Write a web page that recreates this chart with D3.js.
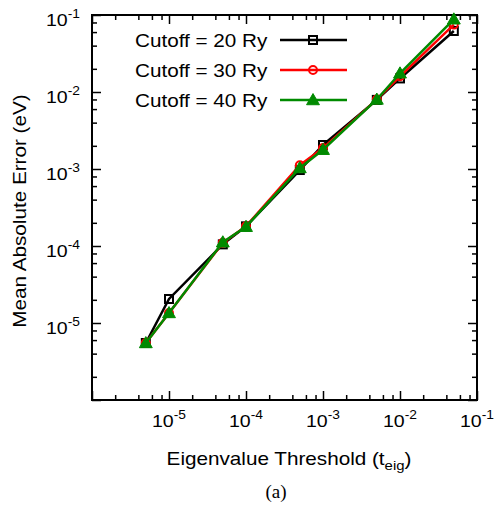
<!DOCTYPE html>
<html><head><meta charset="utf-8">
<script src="https://cdn.jsdelivr.net/npm/d3@7/dist/d3.min.js"></script>
<style>body{margin:0;background:#fff}svg{display:block}</style>
</head><body>
<script>
const thresholds = [5e-6, 1e-5, 5e-5, 1e-4, 5e-4, 1e-3, 5e-3, 1e-2, 5e-2];
const cutoff20 = [5.5e-6, 2.05e-5, 1.05e-4, 1.8e-4, 9.7e-4, 2.05e-3, 7.9e-3, 1.5e-2, 6.2e-2];
const cutoff30 = [5.5e-6, 1.35e-5, 1.1e-4, 1.8e-4, 1.12e-3, 1.87e-3, 8.0e-3, 1.6e-2, 7.5e-2];
const cutoff40 = [5.5e-6, 1.35e-5, 1.12e-4, 1.78e-4, 1.03e-3, 1.78e-3, 8.0e-3, 1.75e-2, 8.8e-2];
const seriesNames = ["Cutoff = 20 Ry", "Cutoff = 30 Ry", "Cutoff = 40 Ry"];
const xTickExps = [-5, -4, -3, -2, -1];
const yTickExps = [-1, -2, -3, -4, -5];

const W = 499, H = 506;
const L = 92, R = 477, T = 15, B = 400;
const svg = d3.select("body").append("svg").attr("width", W).attr("height", H);
const x = d3.scaleLog().domain([1e-6, 1e-1]).range([L, R]);
const y = d3.scaleLog().domain([1e-6, 1e-1]).range([B, T]);
const SX = 1.15;
const FONT = "'Liberation Sans', Arial, sans-serif";

const majors = d3.range(-6, 0).map(e => Math.pow(10, e));
const minors = [];
for (let e = -6; e < -1; e++) for (const m of [2, 4, 6, 8]) minors.push(m * Math.pow(10, e));

function drawAxis(axisGen, tx, ty, vals, size) {
  const g = svg.append("g").attr("transform", `translate(${tx},${ty})`)
    .call(axisGen.tickValues(vals).tickSize(size).tickFormat(""));
  g.select(".domain").remove();
  g.selectAll("line").attr("stroke", "#000").attr("stroke-width", 1.5);
}
[[9, majors], [5, minors]].forEach(([s, v]) => {
  drawAxis(d3.axisBottom(x), 0, B, v, -s);
  drawAxis(d3.axisTop(x), 0, T, v, -s);
  drawAxis(d3.axisLeft(y), L, 0, v, -s);
  drawAxis(d3.axisRight(y), R, 0, v, -s);
});
svg.append("rect").attr("x", L).attr("y", T).attr("width", R - L).attr("height", B - T)
  .attr("fill", "none").attr("stroke", "#000").attr("stroke-width", 2);

function powLabel(px, py, e, anchor) {
  const t = svg.append("text").attr("transform", `translate(${px},${py}) scale(${SX},1)`)
    .attr("text-anchor", anchor).attr("font-family", FONT).attr("font-size", 17).attr("fill", "#000");
  t.append("tspan").text("10");
  t.append("tspan").attr("font-size", 12).attr("dy", -8).text(String(e));
}
xTickExps.forEach(e => powLabel(x(Math.pow(10, e)), 427, e, "middle"));
yTickExps.forEach(e => powLabel(80, y(Math.pow(10, e)) + 11, e, "end"));

// axis titles
const xt = svg.append("text").attr("transform", `translate(289,465) scale(${SX},1)`)
  .attr("text-anchor", "middle").attr("font-family", FONT).attr("font-size", 18);
xt.append("tspan").text("Eigenvalue Threshold (t");
xt.append("tspan").attr("font-size", 13).attr("dy", 5).text("eig");
xt.append("tspan").attr("dy", -5).text(")");
svg.append("text").attr("transform", `translate(26,211) rotate(-90) scale(${SX},1)`)
  .attr("text-anchor", "middle").attr("font-family", FONT).attr("font-size", 18)
  .text("Mean Absolute Error (eV)");
svg.append("text").attr("x", 276).attr("y", 498).attr("text-anchor", "middle")
  .attr("font-family", "'Liberation Serif', 'Times New Roman', serif").attr("font-size", 19).text("(a)");

const series = [
  {name: seriesNames[0], vals: cutoff20, color: "#000000", marker: "square"},
  {name: seriesNames[1], vals: cutoff30, color: "#ff0000", marker: "circle"},
  {name: seriesNames[2], vals: cutoff40, color: "#008a00", marker: "triangle"}
];
const line = d3.line().x(d => x(d[0])).y(d => y(d[1]));
function marker(g, m, cx, cy, color) {
  if (m === "square") g.append("rect").attr("x", cx - 4).attr("y", cy - 4).attr("width", 8).attr("height", 8)
    .attr("fill", "none").attr("stroke", color).attr("stroke-width", 2);
  else if (m === "circle") g.append("circle").attr("cx", cx).attr("cy", cy).attr("r", 4)
    .attr("fill", "none").attr("stroke", color).attr("stroke-width", 2);
  else g.append("path").attr("d", d3.symbol(d3.symbolTriangle, 72)()).attr("transform", `translate(${cx},${cy + 1})`)
    .attr("fill", color).attr("stroke", color).attr("stroke-width", 1);
}
series.forEach((s, i) => {
  const pts = thresholds.map((t, j) => [t, s.vals[j]]);
  const g = svg.append("g");
  g.append("path").attr("d", line(pts)).attr("fill", "none").attr("stroke", s.color).attr("stroke-width", 2.5);
  pts.forEach(p => marker(g, s.marker, x(p[0]), y(p[1]), s.color));
  const ly = 40 + i * 30;
  svg.append("text").attr("transform", `translate(135,${ly + 7}) scale(${SX},1)`)
    .attr("font-family", FONT).attr("font-size", 18).text(s.name);
  const lg = svg.append("g");
  lg.append("line").attr("x1", 280).attr("x2", 347).attr("y1", ly).attr("y2", ly)
    .attr("stroke", s.color).attr("stroke-width", 2.5);
  marker(lg, s.marker, 313, ly, s.color);
});
</script>
</body></html>
